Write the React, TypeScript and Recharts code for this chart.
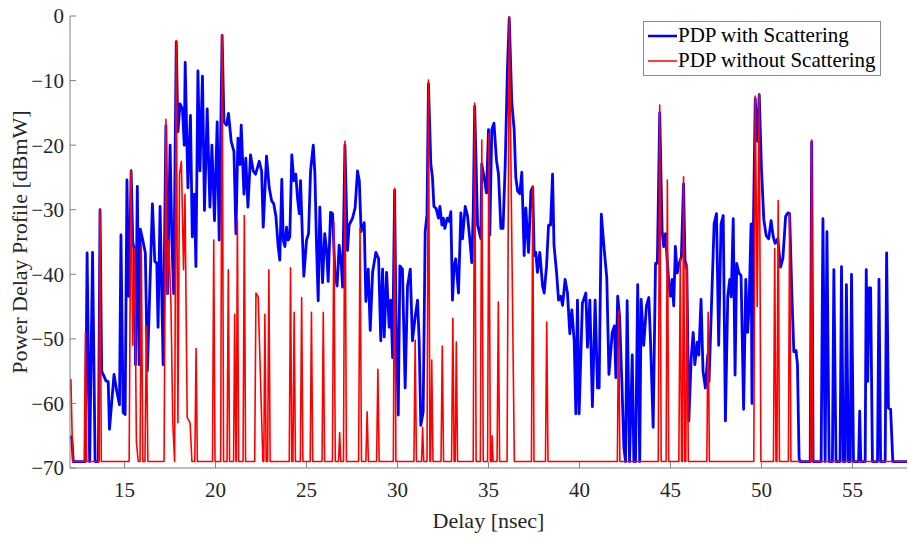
import React from 'react';
import { LineChart, Line, XAxis, YAxis, CartesianGrid } from 'recharts';

// PDP with scattering (blue)
const scatteringDelay = [
  12.02, 12.1, 12.18, 12.84, 12.94, 13.08, 13.24, 13.38, 13.56, 13.65, 13.74, 13.98, 14.1, 14.17, 14.42, 14.57, 14.72, 14.8, 14.92, 15.03,
  15.13, 15.22, 15.3, 15.36, 15.45, 15.52, 15.6, 15.7, 15.8, 15.86, 16.0, 16.14, 16.25, 16.53, 16.66, 16.77, 16.84, 16.95, 17.12, 17.27,
  17.36, 17.5, 17.6, 17.7, 17.84, 17.93, 18.05, 18.18, 18.28, 18.33, 18.48, 18.62, 18.72, 18.84, 18.92, 19.03, 19.14, 19.28, 19.39, 19.54,
  19.69, 19.8, 19.94, 20.09, 20.2, 20.36, 20.46, 20.6, 20.71, 20.86, 21.01, 21.12, 21.23, 21.34, 21.41, 21.56, 21.66, 21.78, 21.92, 22.07,
  22.2, 22.4, 22.53, 22.62, 22.8, 22.95, 23.08, 23.2, 23.32, 23.44, 23.53, 23.64, 23.72, 23.81, 23.9, 23.99, 24.08, 24.19, 24.3, 24.41,
  24.5, 24.6, 24.67, 24.78, 24.85, 25.0, 25.11, 25.22, 25.37, 25.46, 25.55, 25.64, 25.73, 25.88, 26.0, 26.1, 26.19, 26.32, 26.43, 26.56,
  26.68, 26.79, 26.92, 26.98, 27.11, 27.25, 27.34, 27.53, 27.67, 27.8, 27.9, 28.0, 28.17, 28.26, 28.39, 28.5, 28.63, 28.81, 28.96, 29.08,
  29.18, 29.27, 29.4, 29.54, 29.63, 29.73, 29.84, 29.91, 30.04, 30.13, 30.27, 30.42, 30.55, 30.7, 30.82, 30.97, 31.1, 31.19, 31.28, 31.41,
  31.52, 31.62, 31.7, 31.83, 31.92, 32.0, 32.12, 32.25, 32.33, 32.44, 32.52, 32.6, 32.73, 32.83, 32.93, 33.02, 33.11, 33.2, 33.35, 33.48,
  33.57, 33.72, 33.85, 33.97, 34.08, 34.16, 34.24, 34.4, 34.58, 34.63, 34.76, 34.89, 35.0, 35.07, 35.18, 35.3, 35.44, 35.55, 35.68, 35.8,
  35.92, 36.04, 36.14, 36.28, 36.41, 36.5, 36.6, 36.72, 36.83, 36.96, 37.05, 37.2, 37.33, 37.43, 37.51, 37.6, 37.69, 37.82, 37.97, 38.06,
  38.19, 38.3, 38.41, 38.52, 38.6, 38.74, 38.85, 38.97, 39.07, 39.21, 39.34, 39.47, 39.58, 39.71, 39.8, 39.89, 39.98, 40.16, 40.35, 40.44,
  40.57, 40.71, 40.86, 40.99, 41.08, 41.2, 41.34, 41.5, 41.62, 41.8, 41.92, 42.0, 42.1, 42.2, 42.34, 42.44, 42.53, 42.62, 42.75, 42.9,
  42.99, 43.08, 43.2, 43.31, 43.39, 43.53, 43.68, 43.81, 43.9, 44.05, 44.18, 44.28, 44.41, 44.54, 44.63, 44.73, 44.82, 44.91, 45.0, 45.09,
  45.18, 45.27, 45.37, 45.48, 45.6, 45.72, 45.8, 45.9, 46.01, 46.14, 46.25, 46.34, 46.47, 46.56, 46.68, 46.79, 46.92, 47.05, 47.12, 47.4,
  47.53, 47.65, 47.78, 47.9, 48.02, 48.15, 48.26, 48.34, 48.45, 48.55, 48.64, 48.76, 48.88, 49.02, 49.14, 49.24, 49.32, 49.43, 49.48, 49.55,
  49.66, 49.78, 49.88, 50.0, 50.13, 50.26, 50.4, 50.53, 50.65, 50.75, 50.9, 51.05, 51.18, 51.33, 51.45, 51.55, 51.67, 51.78, 51.9, 51.98,
  52.07, 52.12, 52.68, 52.76, 52.84, 53.28, 53.38, 53.5, 53.6, 53.72, 53.9, 53.98, 54.1, 54.32, 54.4, 54.5, 54.6, 54.67, 54.78, 54.88,
  54.95, 55.06, 55.34, 55.4, 55.46, 55.7, 55.76, 55.84, 55.92, 56.0, 56.1, 56.38, 56.46, 56.55, 56.8, 56.88, 56.98, 57.1, 57.22, 58.0,
];
const scatteringPower = [
  -65, -65.5, -69, -69, -36.7, -69, -36.6, -69, -69, -30, -55, -56.5, -56.6, -64, -55.5, -58.1, -60.2, -33.9, -61.4, -61.7,
  -25.4, -43.4, -34, -24, -35, -36, -54, -26.4, -54, -33, -34.7, -36.7, -55, -29.1, -38, -38.3, -48.2, -29.5, -54, -17,
  -43, -20, -35, -43, -4, -17.9, -13.6, -14.4, -20, -7.2, -26.6, -15.4, -34.2, -27.6, -38.8, -8.5, -24, -9.3, -30.1, -14.4,
  -29.6, -20, -31.7, -16.4, -34.7, -3, -16.4, -16.9, -15.1, -19.4, -21, -33.7, -18.9, -23, -16.9, -27.6, -22, -29.6, -21.5, -24,
  -24.5, -22.5, -24, -32.7, -21.7, -26.6, -28.6, -29.1, -31.1, -35.7, -37.8, -25.3, -34.7, -35.7, -32.7, -34.7, -34.2, -21.5, -25.5, -24.5,
  -28.1, -30.6, -25.5, -34.7, -40.3, -34.7, -33.7, -24, -20, -24.5, -35.7, -44.1, -29.6, -41.3, -33.7, -36.2, -41.1, -30.4, -30.6, -39.8,
  -41.8, -35.5, -38.8, -42, -20, -36.3, -32.4, -31.3, -29.7, -24, -25.5, -33.4, -32, -44.2, -39.2, -48.7, -39.7, -36.6, -37.6, -50.3,
  -39.2, -49.7, -39.7, -48.2, -44, -52.9, -27, -45.5, -61.8, -38.7, -39.2, -57.6, -41.8, -39.2, -50.3, -46.6, -44, -50.3, -63.4, -61.3,
  -33.4, -30.8, -10.5, -22.9, -25, -29.5, -29.8, -31.3, -29.5, -32.4, -31.3, -32.9, -31.3, -31.8, -30.3, -44, -38.7, -37.6, -42.9, -30.5,
  -34.5, -29.5, -31, -34.5, -38.2, -30.5, -14, -32.4, -34.5, -22.9, -25, -27.4, -17.6, -33.9, -17.6, -16.6, -22.4, -24.5, -32.9, -32.9,
  -22.9, -8.2, -0.3, -13.4, -17.6, -25, -27.1, -27.5, -24.2, -37.1, -29.7, -36.6, -27.1, -26.5, -37.1, -36.6, -39.7, -36.6, -41.8, -42.9,
  -38.7, -32.4, -32.4, -24.5, -35.5, -39.7, -44, -43.4, -44.8, -40.8, -42.9, -49.2, -45.5, -50.3, -61.6, -44, -61.6, -44.5, -42.9, -51.3,
  -44, -60.5, -44, -57.6, -57.6, -30.7, -35.6, -40.5, -55.5, -49, -48, -56, -43.4, -46.4, -57.6, -66.8, -69, -44.1, -69, -52.5,
  -69, -69, -41.6, -69, -43.9, -51, -44.9, -43.6, -50, -63.7, -38.3, -38.3, -15, -33.2, -35.7, -33.7, -37.8, -41.3, -43.4, -40.8,
  -44.9, -35.7, -39.8, -38.3, -37.3, -26, -37.8, -39.3, -62.7, -53, -49, -54, -50.5, -52.5, -43.9, -55, -57.6, -52.5, -56.6, -32.2,
  -30.6, -51, -32.2, -30.9, -62.7, -43.4, -40.8, -43.5, -31.4, -55.6, -38.3, -39.8, -40.2, -60.9, -40.8, -49, -44.9, -32.2, -60, -34.4,
  -12.8, -19.4, -12.2, -23.6, -31.5, -34, -34.5, -31.7, -34.2, -35.2, -34.5, -38.9, -37.5, -31, -30.5, -30.6, -43, -52, -51.8, -54,
  -68.5, -69, -69, -19.5, -69, -69, -31.4, -69, -33.4, -69, -69, -39.3, -69, -69, -38.8, -69, -69, -41.6, -69, -69,
  -40, -69, -69, -61.2, -69, -69, -39.3, -56.6, -42.1, -42.1, -69, -69, -40.8, -69, -69, -36.7, -60.7, -60.9, -69, -69,
];

// PDP without scattering (red)
const directDelay = [
  12.0, 12.05, 12.15, 12.78, 12.85, 12.92, 13.58, 13.65, 13.72, 15.25, 15.35, 15.45, 15.55, 15.65, 15.75, 15.85, 15.92, 16.0, 16.12, 16.2,
  16.28, 17.17, 17.27, 17.35, 17.43, 17.55, 17.65, 17.75, 17.84, 17.93, 18.02, 18.12, 18.24, 18.32, 18.44, 18.6, 18.7, 18.86, 18.93, 19.0,
  19.83, 19.9, 19.97, 20.28, 20.36, 20.44, 20.63, 20.7, 20.77, 20.99, 21.05, 21.12, 21.14, 21.2, 21.27, 21.51, 21.58, 21.65, 22.15, 22.22,
  22.34, 22.6, 22.65, 22.71, 22.78, 22.86, 22.93, 23.0, 24.05, 24.12, 24.19, 24.25, 24.32, 24.39, 24.66, 24.73, 24.8, 25.2, 25.27, 25.34,
  25.85, 25.92, 25.99, 26.42, 26.5, 26.58, 26.76, 26.82, 26.88, 27.03, 27.11, 27.19, 27.86, 27.94, 28.02, 28.26, 28.33, 28.4, 28.85, 28.92,
  28.99, 29.77, 29.84, 29.91, 30.9, 30.97, 31.04, 31.32, 31.38, 31.44, 31.62, 31.7, 31.78, 31.82, 31.88, 31.95, 32.39, 32.46, 32.53, 32.97,
  33.04, 33.11, 33.17, 33.23, 33.3, 34.16, 34.24, 34.32, 34.55, 34.63, 34.71, 34.95, 35.02, 35.1, 35.16, 35.2, 35.25, 35.47, 35.54, 35.61,
  36.02, 36.14, 36.42, 37.36, 37.43, 37.5, 38.13, 38.2, 38.27, 42.08, 42.15, 42.22, 44.33, 44.41, 44.49, 44.76, 44.83, 44.9, 45.46, 45.54,
  45.61, 45.66, 45.72, 45.79, 45.84, 45.91, 45.98, 47.0, 47.07, 47.14, 49.58, 49.66, 49.77, 49.88, 49.97, 50.66, 50.73, 50.8, 50.85, 50.92,
  50.99, 51.48, 51.55, 51.62, 52.69, 52.76, 52.83, 58.0,
];
const directPower = [
  -58, -56.3, -69, -69, -49, -69, -69, -30, -69, -69, -23.8, -51, -36, -66, -69, -69, -35.5, -69, -69, -48,
  -69, -69, -16, -43, -34.7, -45, -63, -69, -3.8, -63, -24.5, -22.5, -39.3, -27.6, -62.2, -63, -69, -69, -51.5, -69,
  -69, -34.7, -69, -69, -2.9, -69, -69, -39.3, -69, -69, -46.2, -69, -69, -31.7, -69, -69, -30.9, -69, -69, -42.9,
  -43.5, -69, -69, -46.2, -69, -69, -39.3, -69, -69, -39, -69, -69, -45.9, -69, -69, -43.6, -69, -69, -45.9, -69,
  -69, -45.9, -69, -69, -32, -69, -69, -64.5, -69, -69, -19.4, -69, -69, -32.9, -69, -69, -61.3, -69, -69, -54.7,
  -69, -69, -26.7, -69, -69, -50.2, -69, -69, -63.7, -69, -69, -9.9, -69, -69, -53.3, -69, -69, -51.1, -69, -69,
  -46.8, -69, -69, -50.5, -69, -69, -13.5, -69, -69, -19.2, -69, -69, -18.2, -69, -69, -65, -69, -69, -44.3, -69,
  -69, 0, -69, -69, -26.3, -69, -69, -47.4, -69, -69, -45.7, -69, -69, -13.8, -69, -69, -25.4, -69, -69, -37.6,
  -69, -69, -24.9, -69, -69, -38.4, -69, -69, -45.9, -69, -69, -12.4, -45, -12, -69, -69, -36, -69, -69, -28.6,
  -69, -69, -30.6, -69, -69, -19.2, -69, -69,
];

const delayTicks = [15, 20, 25, 30, 35, 40, 45, 50, 55];
const powerTicks = [-70, -60, -50, -40, -30, -20, -10, 0];
const seriesNames = ['PDP with Scattering', 'PDP without Scattering'];
const seriesColors = ['#0000ff', '#ff0000'];

const scatteringData = scatteringDelay.map((t, i) => ({ t, p: scatteringPower[i] }));
const directData = directDelay.map((t, i) => ({ t, p: directPower[i] }));

const FONT = '"Liberation Serif", "Times New Roman", serif';
const TEXT = '#262626';
const AXIS = '#808080';

const formatPower = (v: number) => (v < 0 ? `\u2212${-v}` : `${v}`);

const YLabel = (props: any) => {
  const vb = props.viewBox || { y: 16, height: 452 };
  const cx = 19;
  const cy = vb.y + vb.height / 2;
  return (
    <text
      x={cx}
      y={cy}
      transform={`rotate(-90 ${cx} ${cy})`}
      textAnchor="middle"
      dominantBaseline="central"
      fontFamily={FONT}
      fontSize={22}
      fill={TEXT}
    >
      Power Delay Profile [dBmW]
    </text>
  );
};

const LegendBox = () => (
  <div
    style={{
      position: 'absolute',
      left: 643,
      top: 21,
      border: '1px solid #8c8c8c',
      background: '#ffffff',
      padding: '1px 4px 2px 3px',
      fontFamily: FONT,
      fontSize: 21,
      color: '#000',
      lineHeight: '25px',
      whiteSpace: 'nowrap',
    }}
  >
    {seriesNames.map((name, i) => (
      <div key={name} style={{ display: 'flex', alignItems: 'center' }}>
        <svg width={30} height={6} style={{ marginRight: 1 }}>
          <line x1={1} y1={3} x2={30} y2={3} stroke={seriesColors[i]} strokeWidth={i === 0 ? 2.5 : 1.5} />
        </svg>
        <span>{name}</span>
      </div>
    ))}
  </div>
);

const noTick = () => <g />;

export default function App() {
  return (
    <div style={{ position: 'absolute', left: 0, top: 0, width: 908, height: 539, background: '#fff' }}>
      <LineChart width={908} height={539} margin={{ top: 16, right: 1, bottom: 6, left: 0 }}>
        <CartesianGrid stroke="#e6e6e6" strokeWidth={1} horizontalValues={powerTicks} verticalValues={delayTicks} />
        <XAxis
          xAxisId="b"
          dataKey="t"
          type="number"
          domain={[12, 58]}
          ticks={delayTicks}
          allowDataOverflow
          height={65}
          stroke={AXIS}
          tickSize={-6}
          tickMargin={20}
          tick={{ fill: TEXT, fontFamily: FONT, fontSize: 21 }}
          label={{ value: 'Delay [nsec]', position: 'insideBottom', offset: 5, fill: TEXT, fontFamily: FONT, fontSize: 22 }}
        />
        <XAxis
          xAxisId="t"
          orientation="top"
          dataKey="t"
          type="number"
          domain={[12, 58]}
          ticks={delayTicks}
          allowDataOverflow
          height={0}
          stroke={AXIS}
          tickSize={-6}
          tick={noTick}
        />
        <YAxis
          yAxisId="l"
          type="number"
          domain={[-70, 0]}
          ticks={powerTicks}
          allowDataOverflow
          width={70}
          stroke={AXIS}
          tickSize={-6}
          tickMargin={12}
          tickFormatter={formatPower}
          tick={{ fill: TEXT, fontFamily: FONT, fontSize: 21 }}
          label={<YLabel />}
        />
        <YAxis
          yAxisId="r"
          orientation="right"
          type="number"
          domain={[-70, 0]}
          ticks={powerTicks}
          allowDataOverflow
          width={0}
          stroke={AXIS}
          tickSize={-6}
          tick={noTick}
        />
        <Line
          xAxisId="b"
          yAxisId="l"
          data={scatteringData}
          dataKey="p"
          name={seriesNames[0]}
          stroke={seriesColors[0]}
          strokeWidth={2.8}
          dot={false}
          activeDot={false}
          isAnimationActive={false}
          strokeLinejoin="round"
        />
        <Line
          xAxisId="b"
          yAxisId="l"
          data={directData}
          dataKey="p"
          name={seriesNames[1]}
          stroke={seriesColors[1]}
          strokeWidth={1.6}
          dot={false}
          activeDot={false}
          isAnimationActive={false}
          strokeLinejoin="round"
        />
      </LineChart>
      <LegendBox />
    </div>
  );
}
